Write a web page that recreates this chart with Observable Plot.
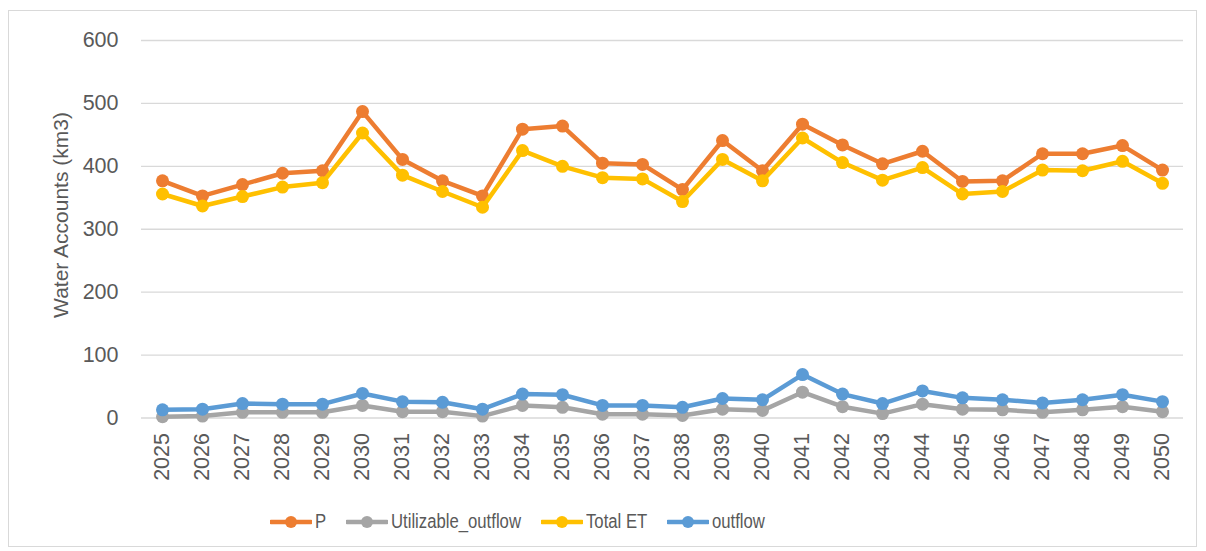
<!DOCTYPE html>
<html>
<head>
<meta charset="utf-8">
<script src="https://cdn.jsdelivr.net/npm/d3@7"></script>
<script src="https://cdn.jsdelivr.net/npm/@observablehq/plot@0.6"></script>
<style>
  html, body { margin: 0; padding: 0; background: #fff; }
  body { width: 1206px; height: 551px; position: relative; overflow: hidden; font-family: "Liberation Sans", Arial, sans-serif; }
  #frame { position: absolute; left: 8px; top: 10px; width: 1189px; height: 537px; border: 1px solid #d9d9d9; box-sizing: border-box; }
  #chart { position: absolute; left: 0; top: 0; }
  #ylabel { position: absolute; left: 60px; top: 215px; transform: translate(-50%, -50%) rotate(-90deg); white-space: nowrap; font-size: 21px; color: #595959; line-height: 1; }
  #legend { position: absolute; left: 270px; top: 510px; display: flex; align-items: center; gap: 20px; font-size: 20px; color: #595959; }
  .item { display: flex; align-items: center; gap: 3px; }
  .item span { display: inline-block; transform: scaleX(0.835); transform-origin: left center; white-space: nowrap; }
</style>
</head>
<body>
<div id="frame"></div>
<div id="chart"></div>
<div id="ylabel"></div>
<div id="legend"></div>
<script>
const years = ["2025","2026","2027","2028","2029","2030","2031","2032","2033","2034","2035","2036","2037","2038","2039","2040","2041","2042","2043","2044","2045","2046","2047","2048","2049","2050"];
const seriesNames = ["P", "Utilizable_outflow", "Total ET", "outflow"];
const seriesColors = ["#ED7D31", "#A5A5A5", "#FFC000", "#5B9BD5"];
const P = [377,353,371,389,393,487,411,377,353,459,464,405,403,363,441,393,467,434,404,424,376,377,420,420,433,394];
const utilizableOutflow = [2,3,9,9,9,20,10,10,3,20,17,6,6,4,14,12,41,18,7,22,14,13,9,13,18,10];
const totalET = [356,337,352,367,374,453,386,360,335,425,400,382,380,344,411,377,445,406,378,398,356,360,394,393,408,373];
const outflow = [13,14,23,22,22,39,26,25,14,38,37,20,20,17,31,29,69,38,23,43,32,29,24,29,37,26];
const yTicks = [0,100,200,300,400,500,600];
const yLabel = "Water Accounts (km3)";

const seriesValues = [P, utilizableOutflow, totalET, outflow];
const data = seriesNames.flatMap((name, s) => years.map((year, i) => ({name, year, value: seriesValues[s][i]})));

const font = "'Liberation Sans', Arial, sans-serif";
const marks = [
  Plot.gridY(yTicks, {stroke: "#d9d9d9", strokeOpacity: 1, strokeWidth: 1.3}),
  Plot.axisY(yTicks, {tickSize: 0, tickPadding: 23, label: null, fontSize: 21.5, fill: "#595959"}),
  Plot.axisX({tickSize: 0, tickPadding: 15, tickRotate: -90, label: null, fontSize: 21.5, fill: "#595959"})
];
seriesNames.forEach((name, s) => {
  const rows = data.filter(d => d.name === name);
  marks.push(Plot.line(rows, {x: "year", y: "value", stroke: seriesColors[s], strokeWidth: 4.5, strokeLinejoin: "round"}));
  marks.push(Plot.dot(rows, {x: "year", y: "value", r: 6.5, fill: seriesColors[s], stroke: "none"}));
});

const chart = Plot.plot({
  width: 1206,
  height: 500,
  marginLeft: 141,
  marginRight: 23,
  marginTop: 40,
  marginBottom: 82.5,
  style: {fontFamily: font, background: "transparent", color: "#595959"},
  x: {type: "point", domain: years, padding: 0.5},
  y: {domain: [0, 600]},
  marks
});
document.getElementById("chart").appendChild(chart);
document.getElementById("ylabel").textContent = yLabel;

const legend = document.getElementById("legend");
seriesNames.forEach((name, s) => {
  const item = document.createElement("div");
  item.className = "item";
  item.innerHTML = `<svg width="42" height="16"><line x1="1" y1="8" x2="41" y2="8" stroke="${seriesColors[s]}" stroke-width="4.5" stroke-linecap="round"/><circle cx="21" cy="8" r="6" fill="${seriesColors[s]}"/></svg><span>${name}</span>`;
  legend.appendChild(item);
});
legend.querySelectorAll(".item span").forEach(sp => {
  const w = sp.getBoundingClientRect().width / 0.835;
  sp.style.marginRight = (-(1 - 0.835) * w) + "px";
});
</script>
</body>
</html>
